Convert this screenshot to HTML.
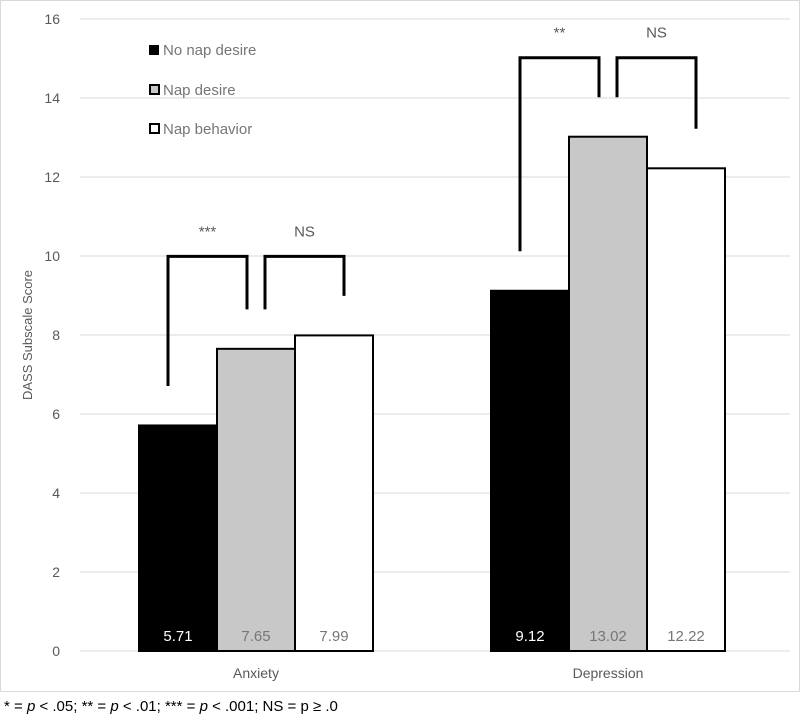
<!DOCTYPE html>
<html><head><meta charset="utf-8"><style>
body{margin:0;background:#fff;font-family:"Liberation Sans",sans-serif}
svg text{font-family:"Liberation Sans",sans-serif}
</style></head><body>
<svg width="800" height="716">
<rect x="0.5" y="0.5" width="799" height="691" fill="#fff" stroke="#d9d9d9"/>
<g id="grid"></g><g id="bars"></g><g id="brackets"></g><g id="labels"></g>
<text transform="translate(32,335) rotate(-90)" text-anchor="middle" font-size="13" fill="#595959">DASS Subscale Score</text>
<g>
<rect x="149" y="45" width="10" height="10" fill="#000"/>
<text x="163" y="55" font-size="15" fill="#767676">No nap desire</text>
<rect x="150" y="85" width="9" height="9" fill="#c8c8c8" stroke="#000" stroke-width="2"/>
<text x="163" y="95" font-size="15" fill="#767676">Nap desire</text>
<rect x="150" y="124" width="9" height="9" fill="#fff" stroke="#000" stroke-width="2"/>
<text x="163" y="134" font-size="15" fill="#767676">Nap behavior</text>
</g>
<text x="4" y="711" font-size="15" fill="#000">* = <tspan font-style="italic">p</tspan> &lt; .05; ** = <tspan font-style="italic">p</tspan> &lt; .01; *** = <tspan font-style="italic">p</tspan> &lt; .001; NS = p ≥ .0</text>
</svg>
<script>
const categories=["Anxiety","Depression"];
const noNapDesire=[5.71,9.12];
const napDesire=[7.65,13.02];
const napBehavior=[7.99,12.22];
const yTicks=[0,2,4,6,8,10,12,14,16];
const sigLeft=["***","**"];
const sigRight=["NS","NS"];
const NS="http://www.w3.org/2000/svg";
const y0=651,pxPer=39.5,plotL=80,plotR=790;
const y=v=>y0-v*pxPer;
const groupCenters=[256,608],bw=78;
function mk(tag,attrs,parent,txt){const e=document.createElementNS(NS,tag);for(const k in attrs)e.setAttribute(k,attrs[k]);if(txt!==undefined)e.textContent=txt;document.getElementById(parent).appendChild(e);return e;}
yTicks.forEach(t=>{
 const l=mk('line',{x1:plotL,x2:plotR,y1:y(t),y2:y(t),stroke:'#d9d9d9','stroke-width':1},'grid');
 
 
 const tx=mk('text',{x:60,y:y(t)+5,'text-anchor':'end','font-size':14,fill:'#595959'},'labels',t);
 
 
});
const series=[[noNapDesire,'#000','#fff'],[napDesire,'#c8c8c8','#767676'],[napBehavior,'#fff','#767676']];
categories.forEach((c,i)=>{
 const xs=[];
 series.forEach((s,j)=>{
  const x=groupCenters[i]-1.5*bw+j*bw; xs.push(x+bw/2);
  const r=mk('rect',{x:x,y:y(s[0][i]),width:bw,height:y0-y(s[0][i]),fill:s[1],stroke:'#000','stroke-width':2},'bars');
  
  
  const t=mk('text',{x:x+bw/2,y:641,'text-anchor':'middle','font-size':15,fill:s[2]},'labels',s[0][i].toFixed(2));
  
  
 });
 const cl=mk('text',{x:groupCenters[i],y:678,'text-anchor':'middle','font-size':14,fill:'#595959'},'labels',c);
 
 
 const top=y(Math.max(noNapDesire[i],napDesire[i],napBehavior[i])+2);
 const vals=[noNapDesire[i],napDesire[i],napBehavior[i]];
 const off=[[-10,-9],[9,10]];
 for(let k=0;k<2;k++){
  const xa=xs[k]+off[k][0], xb=xs[k+1]+off[k][1];
  const p=mk('path',{d:`M${xa},${y(vals[k]+1)}V${top}H${xb}V${y(vals[k+1]+1)}`,fill:'none',stroke:'#000','stroke-width':3},'brackets');
  
  
  const st=mk('text',{x:(xa+xb)/2,y:top-20,'text-anchor':'middle','font-size':15,fill:'#595959'},'labels',k==0?sigLeft[i]:sigRight[i]);
  
  
 }
});
</script>
</body></html>
